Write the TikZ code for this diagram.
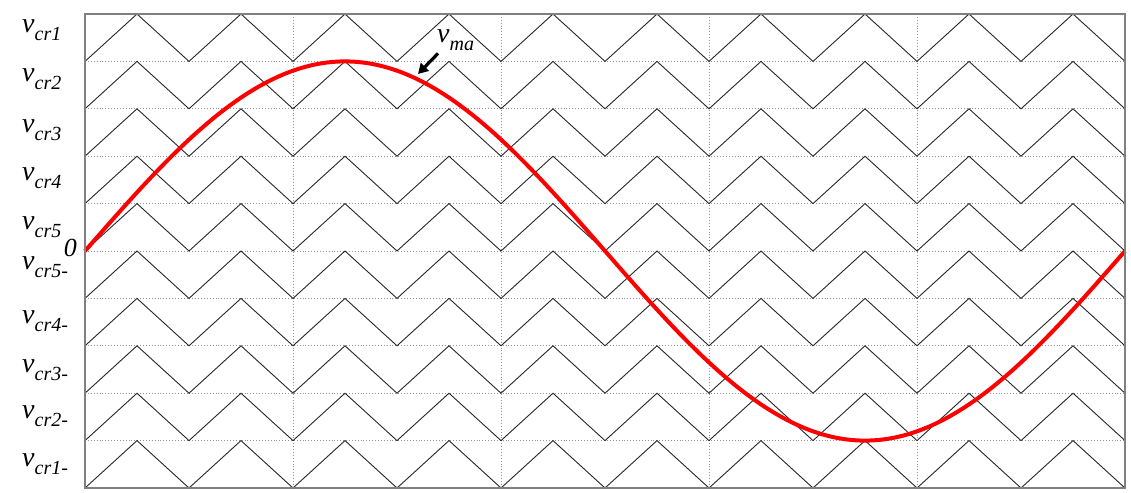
\documentclass[tikz,border=0pt]{standalone}
\usepackage{fontspec}
\setmainfont{Liberation Serif}
\usetikzlibrary{arrows.meta}

\newcommand{\carlab}[1]{{\fontsize{28}{28}\selectfont\itshape v}\raisebox{-8pt}{\fontsize{20}{20}\selectfont\itshape #1}}

\begin{document}
\begin{tikzpicture}[x=1pt,y=-1pt,lbl/.style={anchor=base west,inner sep=0pt},grid/.style={gray!85,dotted,line width=0.9pt},carrier/.style={black!85,line width=0.9pt},refwave/.style={red,line width=4pt},ptr/.style={-{Triangle[length=10pt,width=11pt]},line width=3.2pt}]
\useasboundingbox (0,0) rectangle (1131,492);
% grid
\foreach \k in {1,...,9}
  \draw[grid] (85,{14+47.4*\k}) -- (1125,{14+47.4*\k});
\foreach \x in {293,501,709,917}
  \draw[grid] (\x,14) -- (\x,488);
% carriers
\foreach \i in {0,...,9}
  \draw[carrier] (85,{61.4+47.4*\i}) \foreach \k in {0,...,9}{ -- ++(52,-47.4) -- ++(52,47.4)};
% reference
\draw[refwave,domain=0:1040,samples=200,smooth] plot ({85+\x},{251-189.6*sin(\x/1040*360)});
\draw[gray,line width=1.5pt] (85,14) rectangle (1125,488);
% labels
\foreach \t/\b [count=\n] in {cr1/33,cr2/82,cr3/132,cr4/180,cr5/229,cr5-/269,cr4-/323,cr3-/372,cr2-/418,cr1-/466}
  \node[lbl] (lab\n) at (22,\b) {\carlab{\t}};
\node[lbl,anchor=base east] (zero) at (77,256) {\fontsize{26}{26}\selectfont\itshape 0};
\node[lbl] (vma) at (437,43) {\carlab{ma}};
\coordinate (vmatip) at (418,74);
\draw[ptr] ([xshift=1pt,yshift=-2pt]vma.south west) -- (vmatip);
\end{tikzpicture}
\end{document}
